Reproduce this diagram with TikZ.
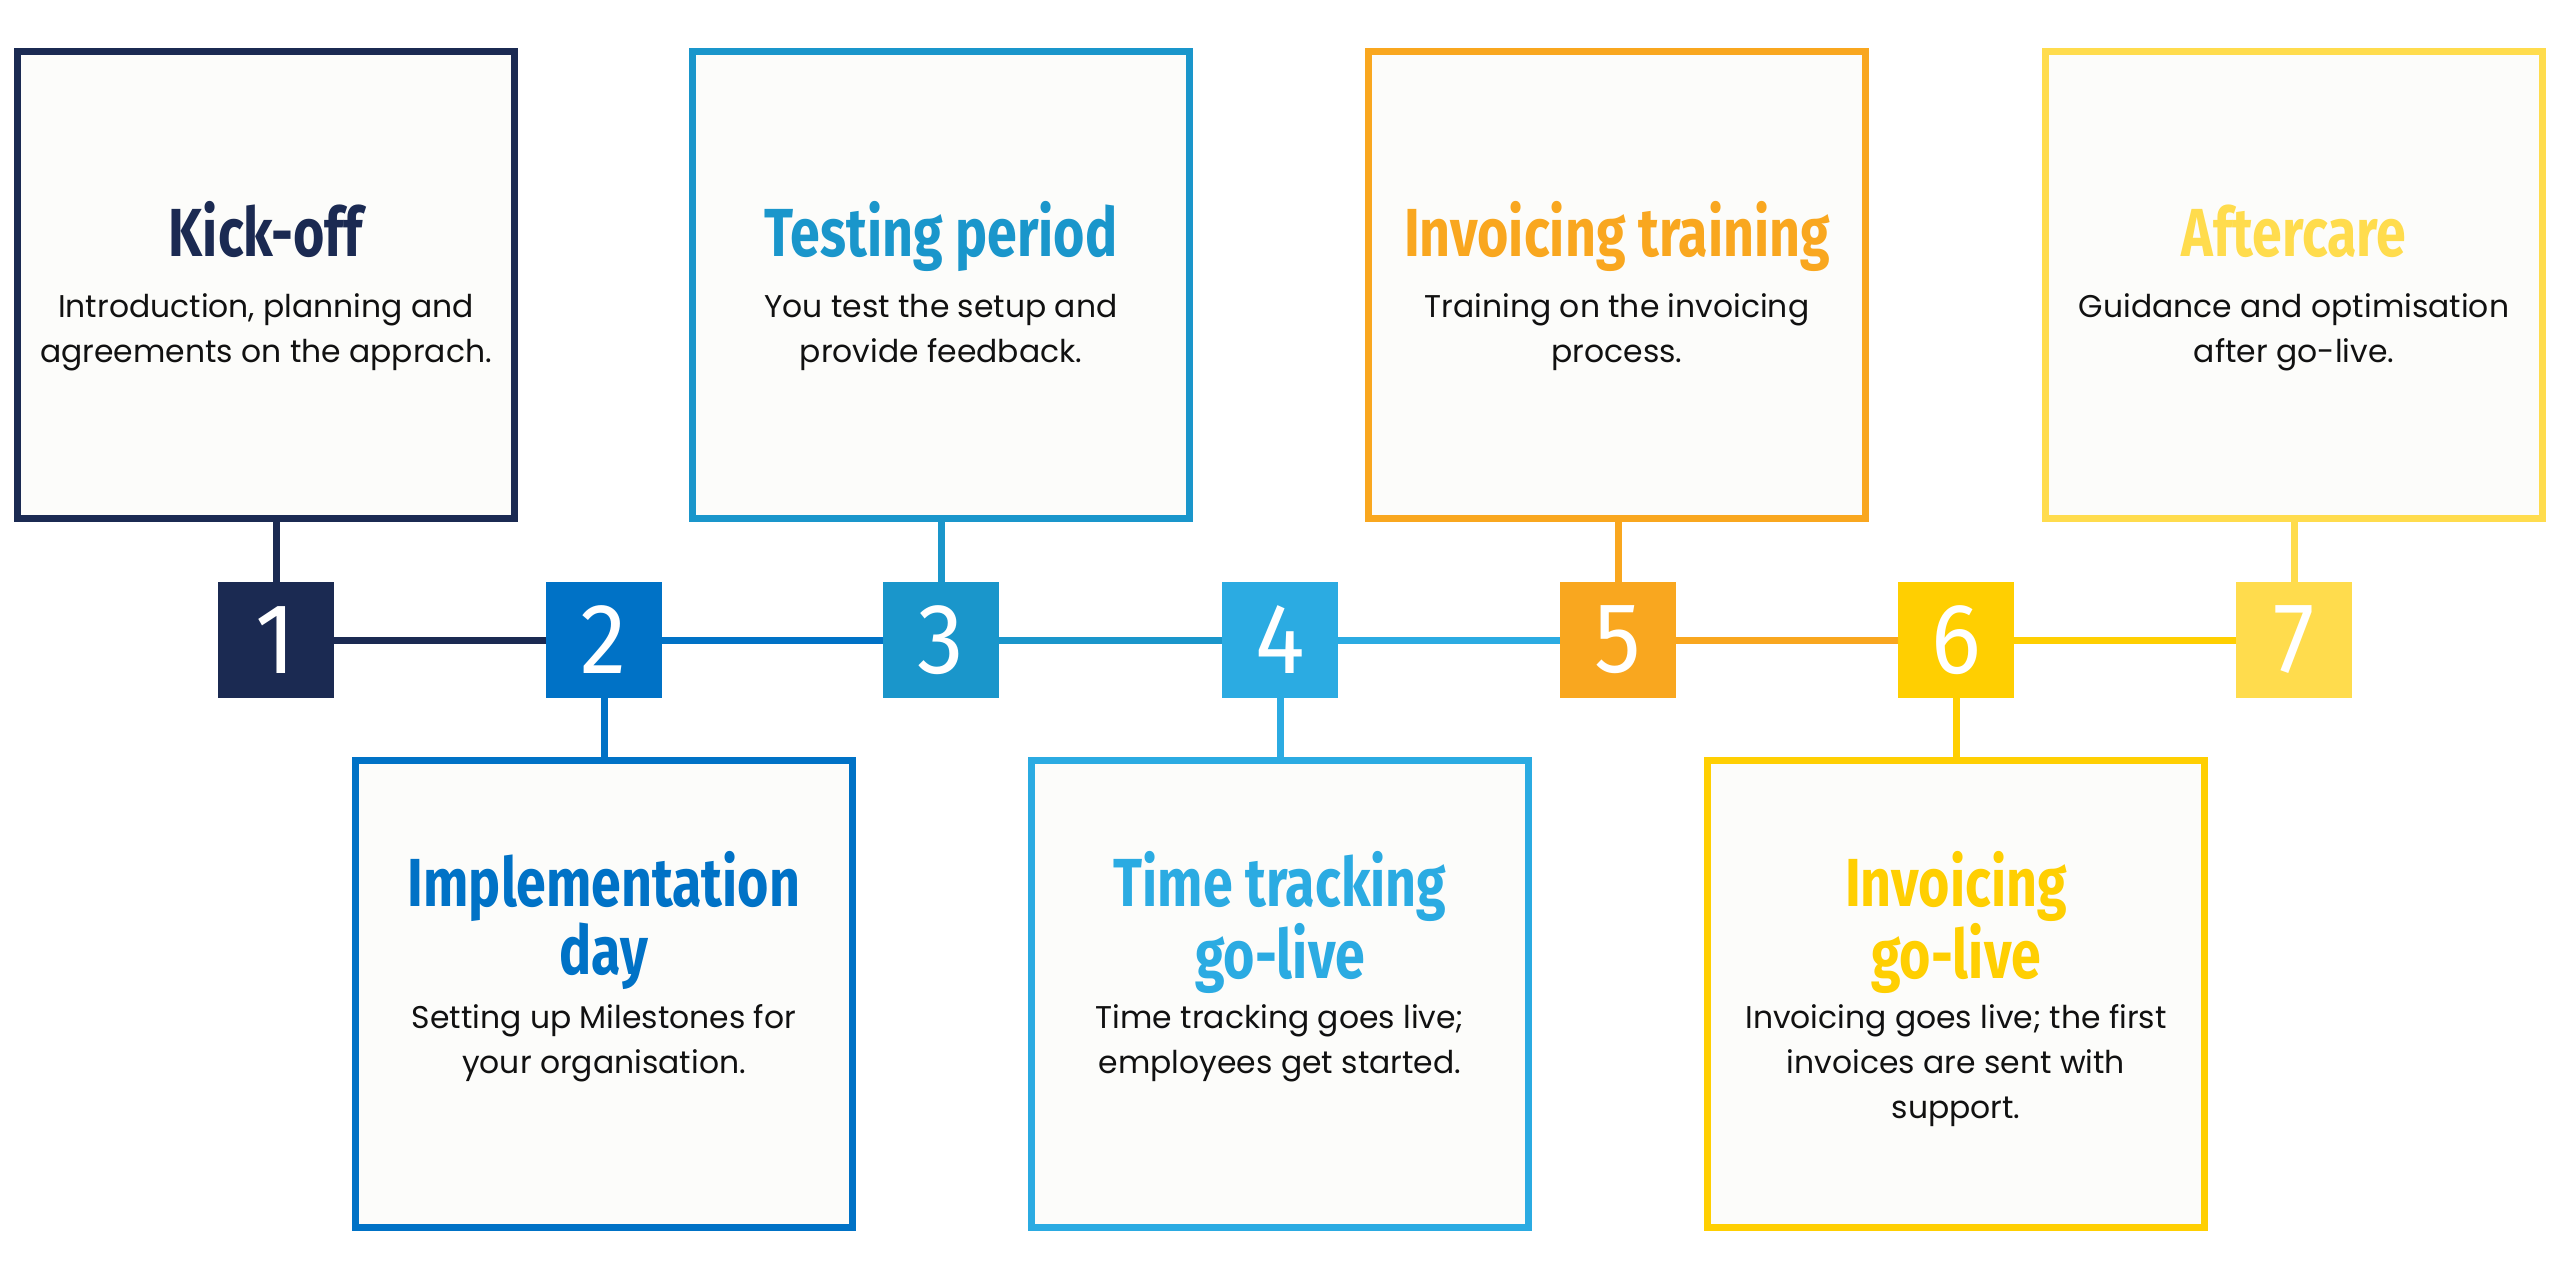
\documentclass[tikz,border=0pt]{standalone}
\usepackage{fontspec}
\usetikzlibrary{backgrounds}
\setmainfont{Poppins}
\newfontfamily\titlefont[FakeStretch=0.79]{Fira Sans}
\newfontfamily\numfont[FakeStretch=0.93]{Fira Sans}
\definecolor{cA}{HTML}{1B2A52}
\definecolor{cB}{HTML}{0072C6}
\definecolor{cC}{HTML}{1A96CB}
\definecolor{cD}{HTML}{2BABE2}
\definecolor{cE}{HTML}{F9A71F}
\definecolor{cF}{HTML}{FFCF01}
\definecolor{cG}{HTML}{FFDC4D}
\definecolor{boxfill}{HTML}{FCFCFA}
\definecolor{bodytext}{HTML}{111111}
\newcommand\stacklines[1]{\vtop{\halign{\hfil##\hfil\cr#1\crcr}}}
\begin{document}
\begin{tikzpicture}[x=0.5pt,y=-0.5pt,
  sq/.style={rectangle, minimum width=58pt, minimum height=58pt, inner sep=0pt,
    text=white, font=\numfont\fontsize{50}{50}\selectfont},
  card/.style={rectangle, draw, line width=3.5pt, fill=boxfill,
    minimum width=248.5pt, minimum height=233.5pt, inner sep=0pt},
  conn/.style={line width=3.5pt},
  ttl/.style={anchor=base, inner sep=0pt,
    font=\titlefont\bfseries\fontsize{34}{30.5}\selectfont},
  txt/.style={anchor=base, inner sep=0pt, text=bodytext,
    font=\fontsize{15.7}{22.5}\selectfont}]
\useasboundingbox (0,0) rectangle (2560,1280);
% cards
\node[card, draw=cA] (b1) at (266,285) {};
\node[card, draw=cB] (b2) at (604,994) {};
\node[card, draw=cC] (b3) at (941,285) {};
\node[card, draw=cD] (b4) at (1280,994) {};
\node[card, draw=cE] (b5) at (1617,285) {};
\node[card, draw=cF] (b6) at (1956,994) {};
\node[card, draw=cG] (b7) at (2294,285) {};
% number squares
\node[sq, fill=cA] (s1) at (276,640) {1};
\node[sq, fill=cB] (s2) at (604,640) {2};
\node[sq, fill=cC] (s3) at (941,640) {3};
\node[sq, fill=cD] (s4) at (1280,640) {4};
\node[sq, fill=cE] (s5) at (1618,640) {5};
\node[sq, fill=cF] (s6) at (1956,640) {6};
\node[sq, fill=cG] (s7) at (2294,640) {7};
% connectors
\begin{scope}[on background layer]
\draw[conn, cA] (s1.east) -- (s2.west);
\draw[conn, cB] (s2.east) -- (s3.west);
\draw[conn, cC] (s3.east) -- (s4.west);
\draw[conn, cD] (s4.east) -- (s5.west);
\draw[conn, cE] (s5.east) -- (s6.west);
\draw[conn, cF] (s6.east) -- (s7.west);
\draw[conn, cA] (s1.north) -- (s1.north |- b1.south);
\draw[conn, cB] (s2.south) -- (s2.south |- b2.north);
\draw[conn, cC] (s3.north) -- (s3.north |- b3.south);
\draw[conn, cD] (s4.south) -- (s4.south |- b4.north);
\draw[conn, cE] (s5.north) -- (s5.north |- b5.south);
\draw[conn, cF] (s6.south) -- (s6.south |- b6.north);
\draw[conn, cG] (s7.north) -- (s7.north |- b7.south);
\end{scope}
% titles
\node[ttl, text=cA] (t1) at (266,256) {\stacklines{Kick-off}};
\node[ttl, text=cC] (t3) at (941,256) {\stacklines{Testing period}};
\node[ttl, text=cE] (t5) at (1617,256) {\stacklines{Invoicing training}};
\node[ttl, text=cG] (t7) at (2294,256) {\stacklines{Aftercare}};
\node[ttl, text=cB] (t2) at (604,906) {\stacklines{Implementation\cr day}};
\node[ttl, text=cD] (t4) at (1280,906) {\stacklines{Time tracking\cr go-live}};
\node[ttl, text=cF] (t6) at (1956,906) {\stacklines{Invoicing\cr go-live}};
% body texts
\node[txt] (d1) at (266,317) {\stacklines{Introduction, planning and\cr agreements on the apprach.}};
\node[txt] (d3) at (941,317) {\stacklines{You test the setup and\cr provide feedback.}};
\node[txt] (d5) at (1617,317) {\stacklines{Training on the invoicing\cr process.}};
\node[txt] (d7) at (2294,317) {\stacklines{Guidance and optimisation\cr after go-live.}};
\node[txt] (d2) at (604,1028) {\stacklines{Setting up Milestones for\cr your organisation.}};
\node[txt] (d4) at (1280,1028) {\stacklines{Time tracking goes live;\cr employees get started.}};
\node[txt] (d6) at (1956,1028) {\stacklines{Invoicing goes live; the first\cr invoices are sent with\cr support.}};
\end{tikzpicture}
\end{document}
